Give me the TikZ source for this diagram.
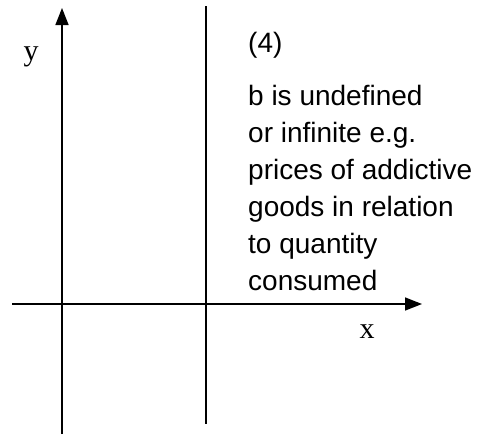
\documentclass[tikz,border=0pt]{standalone}
\usepackage{fontspec}
\setmainfont{Liberation Sans}
\newfontfamily\seriffont{Liberation Serif}
\usetikzlibrary{arrows.meta}
\begin{document}
\begin{tikzpicture}[x=1pt,y=-1pt,
 axis/.style={line width=1.5pt,-{Triangle[length=17pt,width=13pt]}},
 plainline/.style={line width=1.5pt},
 lab/.style={font=\seriffont\fontsize{30}{30}\selectfont, inner sep=0pt},
 txt/.style={font=\fontsize{28}{37}\selectfont, inner sep=0pt, anchor=base west}]
\useasboundingbox (0,0) rectangle (494,434);
\coordinate (yb) at (62,434);
\coordinate (yt) at (62,8);
\coordinate (xl) at (12,304);
\coordinate (xr) at (422,304);
\coordinate (vt) at (206,6);
\coordinate (vb) at (206,424);
\draw[axis] (yb) -- (yt);
\draw[axis] (xl) -- (xr);
\draw[plainline] (vt) -- (vb);
\node[lab] (ylab) at (31,57) {y};
\node[lab] (xlab) at (367,332) {x};
\node[txt] (num) at (248,52) {(4)};
\node[txt] (l1) at (248,105) {b is undefined};
\node[txt] (l2) at (248,142) {or infinite e.g.};
\node[txt] (l3) at (248,179) {prices of addictive};
\node[txt] (l4) at (248,216) {goods in relation};
\node[txt] (l5) at (248,253) {to quantity};
\node[txt] (l6) at (248,290) {consumed};
\end{tikzpicture}
\end{document}
